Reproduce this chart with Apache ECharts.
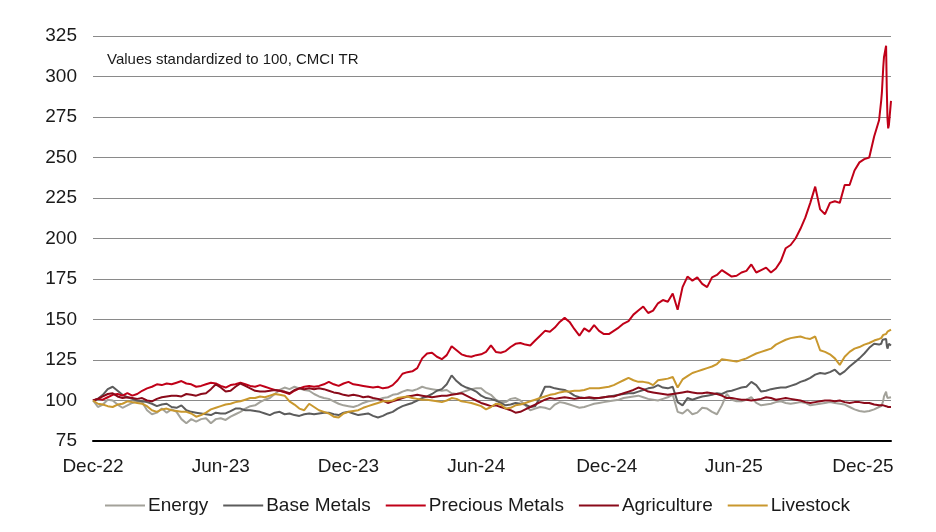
<!DOCTYPE html>
<html><head><meta charset="utf-8">
<script src="https://cdn.jsdelivr.net/npm/echarts@6/dist/echarts.min.js"></script>
<style>html,body{margin:0;padding:0;background:#fff}#c{width:936px;height:532px}</style>
</head><body><div id="c"></div>
<script>
// Weekly observations (Fridays) from 30 Dec 2022 to 23 Jan 2026, then daily closes to 9 Feb 2026
const weeklyStart = [2022, 12, 30];
const weeklyCount = 161;
const dailyTail = ['2026-01-26','2026-01-27','2026-01-28','2026-01-29','2026-01-30','2026-02-02','2026-02-03','2026-02-04','2026-02-05','2026-02-06','2026-02-09'];
const axisEnd = '2026-02-09';

const tickDates = ['2022-12-30','2023-06-30','2023-12-29','2024-06-28','2024-12-31','2025-06-30','2025-12-31'];
const tickLabels = ['Dec-22','Jun-23','Dec-23','Jun-24','Dec-24','Jun-25','Dec-25'];

const seriesNames = ['Energy','Base Metals','Precious Metals','Agriculture','Livestock'];

const energy = [
100,96,97.5,100.5,100,97.5,95.5,97,98.5,99.5,
99,94,91.5,92.5,95,92.5,94.5,93,88.5,86,
88.5,87,88.5,89,86,88.5,89,88,90,91.5,
93,95,96.5,97,99,100.5,101.5,104,106.5,108,
107,108.5,107.5,106.5,106,104,102.5,101.5,101,99.5,
98,97,96.5,96,97,98.5,99.5,100,100.5,101.5,
102,103.5,104,105.5,106.5,106,107,108.5,107.5,107,
106.5,106,106.5,104.5,104,105,106,107,107.5,107.5,
105,103.5,100.5,99,99,101,101.5,100,97,94,
95,96,95.5,94.5,97.5,99,98.5,97.5,96.5,95.5,
96,97,98,98.5,99,99.5,100,100.5,101.5,102,
102.5,103,102,101,100.5,100,101,102,103.5,93,
92,94.5,91.5,92.5,95.5,95,93,91.5,97,104,
100.5,99.5,99.5,100.5,102,98.5,97,97.5,98,99,
99.5,98.5,98,98.5,99,98.5,97,97.5,98,98.5,
99,98.5,98,97.5,96,94.5,93.5,93,93.5,94.5,
96,
96.5,97,98.5,100,102.5,105.5,103,101.5,102.5,101,102];

const baseMetals = [
100,101,103.5,107,108.5,106,103.5,102,101,100,
99.5,99,98,96.5,97.5,98,96,95.5,97,94,
93,92.5,92,91.5,91,92.5,92,92,93.5,95,
95,94,94,93.5,93,92,91,92.5,93,91.5,
92,91,90.5,91.5,92,91.5,92,92.5,92.5,91.5,
91,92.5,93,92,91,91.5,92,90.5,89.5,90.5,
92,93,95,96.5,97.5,98.5,100,101.5,102.5,104,
106,107,110,115.5,112,109.5,108,107,105.5,103,
101.5,101,100,98.5,97,97.5,98.5,98,97.5,96,
96.5,102,108.5,108.5,107.5,107,106.5,105,103,102,
101.5,101.5,101,101.5,102,102.5,103,103.5,104,104.5,
104.5,105.5,106.5,107.5,108,109.5,108,107.5,108.5,99,
97,101.5,100.5,101.5,102.5,103,103.5,104.5,104,105.5,
106,107,108,108.5,111.5,109.5,105.5,106,107,107.5,
108,108,109,110,111.5,112.5,114,116,117,116.5,
117.5,119,116,118,121,123.5,126,129,132.5,135,
134.5,
135,136,137.5,136.5,137,138,134,132,133.5,135,134];

const preciousMetals = [
100,101,100.5,102,103.5,104,103,104.5,103,104,
106,107.5,108.5,110,109.5,110.5,110,111,112,110.5,
110,108.5,109,110,111,110.5,109,108,109.5,110,
111,110,109,108.5,109.5,108.5,107.5,106.5,106,105,
104,106,107.5,108.5,109,108.5,109,110,111.5,110,
109,110.5,111.5,110,109.5,109,108.5,108,108.5,107.5,
108,109.5,112.5,116.5,117.5,118,120,126,129,129.5,
127,125.5,128,133.5,131,128.5,127.5,127,128,128.5,
130,134,130,129.5,130.5,133,135,135.5,134.5,134,
137,140,143,142.5,145,148.5,151,148.5,144,140,
144.5,142.5,146.5,143,141,141,143,145,147.5,149,
153,155.5,158,154,155.5,160,162,161,166,156,
170,176.5,174,176,172,170,176,177.5,180.5,178.5,
176.5,177,179,180,184,179,180.5,182,179,181.5,
186,194,196,200,206,213,222,232,218,215,
222,223,222,233,233,242,247,249,250,263,
273,
285,290,298,306,312,319,292,274,268,270,285];

const agriculture = [
100,101,102.5,104,104.5,102.5,101.5,102,101.5,101,
101.5,100,99.5,101,102,102.5,103,103,102.5,104,
103.5,103,104,104.5,107,110,108,105.5,106,108.5,
110.5,109,107.5,106,105.5,105.5,106,106.5,106,105.5,
104.5,106.5,107.5,107,107.5,107,107.5,107,106,105,
104.5,103.5,103,103.5,103,102,102.5,101.5,101,100,
98.5,99.5,100.5,101.5,102.5,103,103.5,103,102.5,102,
102.5,103,103,103.5,104,104.5,103,101.5,100,98.5,
97.5,96.5,97,96,95,94,92.5,93,94.5,96,
97.5,99,100.5,101.5,101,101.5,102,101.5,101,101.5,
101.5,102,101.5,101.5,102,102.5,102.5,103.5,104.5,105.5,
106.5,108,107,105.5,105,104.5,104,103.5,104,104.5,
105,105.5,105,104.5,104.5,105,104.5,104,103,101.5,
101.5,101,100.5,100.5,100,100.5,101,102,101.5,100.5,
101,101.5,101,100.5,100,99,98.5,99,99.5,100,
100,99.5,100,99,98.5,99,99,98.5,98.5,97.5,
97,
97,96.5,96.5,97,96,96.5,96,96.5,96,96.5,96];

const livestock = [
100,98,97.5,96.5,96,97.5,98,99.5,99,98.5,
98,96.5,94,93,94.5,95,94,93.5,93,93,
92,90,91,92.5,94.5,95.5,96.5,97.5,98,99,
99.5,100.5,101.5,101.5,102.5,102,103,104,103.5,103,
99.5,97.5,95,94,98,96,94,93,92,90,
89.5,92,93,93.5,94,95.5,96.5,97.5,98.5,99.5,
99.5,100,101.5,102,102.5,101.5,101,100.5,100.5,100,
99.5,99,100,101.5,101,99.5,99,98.5,97.5,96.5,
94.5,96,98,97.5,95,95.5,97,97.5,98.5,99.5,
100.5,101.5,102.5,103.5,104,105,105.5,105.5,106,106,
106.5,107.5,107.5,107.5,108,108.5,109.5,111,112.5,114,
112.5,111.5,111.5,111,109.5,112.5,113,113.5,114.5,108,
113,115,117,118,119,120,121,122.5,125.5,125,
124.5,124,125,126,127.5,129,130,131,132,134.5,
136,137.5,138.5,139,139.5,138.5,138,139.5,131,130,
128.5,126,122,127,130,132,133,134.5,135.5,137,
138,
138.5,139.5,139,140.5,140,141,141.5,142.5,142,143,143.8];

const colors = ['#a3a29a','#5c5c5c','#c00018','#8a0a1a','#c9982e'];

// Dates -> day offsets from the first observation (x position on a value axis)
const DAY = 86400000;
const t0 = Date.UTC(weeklyStart[0], weeklyStart[1]-1, weeklyStart[2]);
function dayOf(s){ const p = s.split('-').map(Number); return Math.round((Date.UTC(p[0], p[1]-1, p[2]) - t0) / DAY); }
const days = [];
for (let i = 0; i < weeklyCount; i++) days.push(7*i);
dailyTail.forEach(s => days.push(dayOf(s)));
const tickDays = tickDates.map(dayOf);

const values = [energy, baseMetals, preciousMetals, agriculture, livestock];
const font = 'Liberation Sans';

const chart = echarts.init(document.getElementById('c'), null, {renderer: 'canvas'});
chart.setOption({
  animation: false,
  textStyle: {fontFamily: font},
  title: {
    text: 'Values standardized to 100, CMCI TR',
    left: 102, top: 47,
    textStyle: {fontSize: 15, fontWeight: 'normal', color: '#1a1a1a', fontFamily: font}
  },
  grid: {left: 93, right: 45, top: 36, bottom: 91, containLabel: false},
  legend: {
    data: seriesNames,
    left: 100, top: 491,
    icon: 'rect', itemWidth: 40, itemHeight: 2, itemGap: 15,
    textStyle: {fontSize: 19, color: '#1a1a1a', fontFamily: font, padding: [0, 0, 0, -2]}
  },
  xAxis: {
    type: 'value',
    min: 0,
    max: dayOf(axisEnd),
    axisLine: {show: true, onZero: false, lineStyle: {color: '#000', width: 2}},
    axisTick: {show: false},
    splitLine: {show: false},
    axisLabel: {
      customValues: tickDays,
      margin: 16,
      fontSize: 19, color: '#1a1a1a', fontFamily: font,
      formatter: function (v) {
        const k = tickDays.indexOf(Math.round(v));
        return k >= 0 ? tickLabels[k] : '';
      }
    }
  },
  yAxis: {
    type: 'value', min: 75, max: 325, interval: 25,
    axisLine: {show: false}, axisTick: {show: false},
    axisLabel: {fontSize: 19, color: '#1a1a1a', margin: 16, fontFamily: font},
    splitLine: {show: true, lineStyle: {color: '#8a8a8a', width: 1}}
  },
  series: seriesNames.map((n, s) => ({
    name: n, type: 'line', showSymbol: false, symbol: 'none',
    color: colors[s],
    lineStyle: {width: 2, color: colors[s]},
    data: days.map((d, i) => [d, values[s][i]])
  }))
});
</script></body></html>
